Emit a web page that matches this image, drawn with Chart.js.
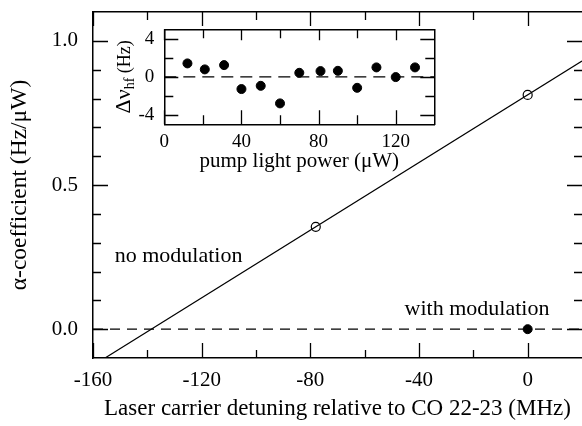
<!DOCTYPE html>
<html>
<head>
<meta charset="utf-8">
<script src="https://cdn.jsdelivr.net/npm/chart.js@4.4.0/dist/chart.umd.min.js"></script>
<style>
  html, body { margin: 0; padding: 0; background: #fff; }
  #wrap { position: relative; width: 582px; height: 426px; overflow: hidden; }
  #wrap canvas { position: absolute; left: 0; top: 0; }
</style>
</head>
<body>
<div id="wrap">
  <canvas id="mainChart" width="582" height="426"></canvas>
  <canvas id="insetChart" width="582" height="180"></canvas>
</div>
<script>
// ---- main panel: alpha-coefficient vs detuning ----
const fitX  = [-160, 20];          // straight fit line (end points)
const fitY  = [-0.126, 0.93];
const openX = [-78, 0];            // "no modulation" measurements
const openY = [0.355, 0.8125];
const modX  = [0];                 // "with modulation" measurement
const modY  = [0];
const zeroX = [-160, 20];
const zeroY = [0, 0];

const xMajor = [-160, -120, -80, -40, 0];
const xMinor = [-140, -100, -60, -20];
const yMajor = [0, 0.5, 1.0];
const yMinor = [0.1, 0.2, 0.3, 0.4, 0.6, 0.7, 0.8, 0.9];

const noteText = ["no modulation", "with modulation"];
const noteX    = [-152, -45.3];
const noteY    = [0.232, 0.048];

// ---- inset: hyperfine shift vs pump power ----
const powX  = [12, 21, 31, 40, 50, 60, 70, 81, 90, 100, 110, 120, 130];
const dHf   = [1.41, 0.78, 1.23, -1.29, -0.95, -2.8, 0.42, 0.6, 0.63, -1.16, 0.99, -0.03, 0.99];
const inZeroX = [0, 140];
const inZeroY = [0, 0];
const inXMajor = [0, 40, 80, 120];
const inXMinor = [20, 60, 100];
const inYMajor = [-4, 0, 4];
const inYMinor = [-2, 2];

const SERIF = '"Liberation Serif", "Times New Roman", serif';
Chart.defaults.color = "#000";
Chart.defaults.font.family = SERIF;

const pts = (xs, ys) => xs.map((x, i) => ({ x, y: ys[i] }));

// inward ticks on all four sides, drawn from the chart's own scales
function inTicks(cfg) {
  return {
    id: "inTicks",
    afterDatasetsDraw(chart) {
      const { ctx, chartArea: a, scales } = chart;
      const xs = scales.x, ys = scales.y;
      ctx.save();
      ctx.strokeStyle = "#000";
      ctx.lineWidth = cfg.w;
      ctx.beginPath();
      const vx = (vals, len, lenTop) => vals.forEach(v => {
        const p = Math.round(xs.getPixelForValue(v)) + 0.5;
        ctx.moveTo(p, a.bottom); ctx.lineTo(p, a.bottom - len);
        ctx.moveTo(p, a.top);    ctx.lineTo(p, a.top + lenTop);
      });
      const vy = (vals, len, lenRight) => vals.forEach(v => {
        const p = Math.round(ys.getPixelForValue(v)) + 0.5;
        ctx.moveTo(a.left, p);  ctx.lineTo(a.left + len, p);
        ctx.moveTo(a.right, p); ctx.lineTo(a.right - lenRight, p);
      });
      vx(cfg.xMajor, cfg.major, cfg.majorTop);
      vx(cfg.xMinor, cfg.minor, cfg.minor);
      vy(cfg.yMajor, cfg.major, cfg.major);
      vy(cfg.yMinor, cfg.minor, cfg.minor);
      ctx.stroke();
      ctx.restore();
    }
  };
}

const notes = {
  id: "notes",
  afterDatasetsDraw(chart) {
    const { ctx, scales: { x, y } } = chart;
    ctx.save();
    ctx.font = "22px " + SERIF;
    ctx.fillStyle = "#000";
    ctx.textBaseline = "alphabetic";
    noteText.forEach((t, i) => ctx.fillText(t, x.getPixelForValue(noteX[i]), y.getPixelForValue(noteY[i])));
    ctx.restore();
  }
};

// fixed box sizes, and no extra label overhang padding
const fixBox = (s, prop, val) => {
  s[prop] = val;
  s.paddingTop = s.paddingBottom = s.paddingLeft = s.paddingRight = 0;
};

function frameScales(xmin, xmax, ymin, ymax, fix) {
  const border = { display: true, color: "#000", width: 1.5 };
  const grid = { display: false, drawTicks: false };
  return {
    x: {
      type: "linear", position: "bottom", min: xmin, max: xmax,
      border, grid,
      afterBuildTicks: s => { s.ticks = fix.xTicks.map(value => ({ value })); },
      afterFit: s => fixBox(s, "height", fix.bottom),
      ticks: { font: { size: fix.tickSize }, padding: fix.xPad, maxRotation: 0, callback: v => String(v) },
      title: { display: true, text: fix.xTitle, font: { size: fix.xTitleSize }, padding: { top: 0, bottom: fix.xTitlePad } }
    },
    x2: {
      type: "linear", position: "top", min: xmin, max: xmax,
      border, grid, ticks: { display: false },
      afterFit: s => fixBox(s, "height", 0)
    },
    y: {
      type: "linear", position: "left", min: ymin, max: ymax,
      border, grid,
      afterBuildTicks: s => { s.ticks = fix.yTicks.map(value => ({ value })); },
      afterFit: s => fixBox(s, "width", fix.left),
      ticks: { font: { size: fix.tickSize }, padding: fix.yPad, callback: fix.yFmt },
      title: { display: !!fix.yTitle, text: fix.yTitle, font: { size: fix.yTitleSize }, padding: { top: fix.yTitlePad, bottom: 0 } }
    },
    y2: {
      type: "linear", position: "right", min: ymin, max: ymax,
      border: { ...border, display: fix.rightBorder }, grid, ticks: { display: false },
      afterFit: s => fixBox(s, "width", 0)
    }
  };
}

new Chart(document.getElementById("mainChart"), {
  type: "scatter",
  data: {
    datasets: [
      { data: pts(zeroX, zeroY), showLine: true, borderColor: "#000", borderWidth: 1.2, borderDash: [10, 7], pointRadius: 0 },
      { data: pts(fitX, fitY), showLine: true, borderColor: "#000", borderWidth: 1.2, pointRadius: 0 },
      { data: pts(openX, openY), pointRadius: 4.5, pointBackgroundColor: "#fff", pointBorderColor: "#000", pointBorderWidth: 1.2 },
      { data: pts(modX, modY), pointRadius: 4.5, pointBackgroundColor: "#000", pointBorderColor: "#000" }
    ]
  },
  options: {
    responsive: false, animation: false, devicePixelRatio: 1,
    layout: { autoPadding: false, padding: { left: 0, top: 12, right: 0, bottom: 0 } },
    plugins: { legend: { display: false }, tooltip: { enabled: false } },
    scales: frameScales(-160, 20, -0.1, 1.1, {
      bottom: 68, left: 93, tickSize: 21, xPad: 10, yPad: 15, rightBorder: false,
      xTicks: xMajor, yTicks: yMajor, yFmt: v => v.toFixed(1),
      xTitle: "Laser carrier detuning relative to CO 22-23 (MHz)", xTitleSize: 23, xTitlePad: 3,
      yTitle: "α-coefficient (Hz/μW)", yTitleSize: 23.5, yTitlePad: 6
    })
  },
  plugins: [inTicks({ w: 1.3, major: 15, majorTop: 14, minor: 8, xMajor, xMinor, yMajor, yMinor }), notes]
});

// inset y-axis title with a subscript
const insetYTitle = {
  id: "insetYTitle",
  afterDraw(chart) {
    const { ctx, chartArea: a } = chart;
    const parts = [["Δν", 22, 0], ["hf", 14, 4], [" (Hz)", 18, 0]];
    ctx.save();
    ctx.fillStyle = "#000";
    ctx.textBaseline = "alphabetic";
    ctx.translate(130, (a.top + a.bottom) / 2);
    ctx.rotate(-Math.PI / 2);
    let total = 0;
    parts.forEach(([t, s]) => { ctx.font = s + "px " + SERIF; total += ctx.measureText(t).width; });
    let x = -total / 2;
    parts.forEach(([t, s, d]) => {
      ctx.font = s + "px " + SERIF;
      ctx.fillText(t, x, d);
      x += ctx.measureText(t).width;
    });
    ctx.restore();
  }
};

new Chart(document.getElementById("insetChart"), {
  type: "scatter",
  data: {
    datasets: [
      { data: pts(inZeroX, inZeroY), showLine: true, borderColor: "#000", borderWidth: 1.2, borderDash: [12, 7], pointRadius: 0 },
      { data: pts(powX, dHf), pointRadius: 4.5, pointBackgroundColor: "#000", pointBorderColor: "#000" }
    ]
  },
  options: {
    responsive: false, animation: false, devicePixelRatio: 1,
    layout: { autoPadding: false, padding: { left: 0, top: 29.3, right: 147.7, bottom: 0 } },
    plugins: { legend: { display: false }, tooltip: { enabled: false } },
    scales: frameScales(0, 140, -5, 5, {
      bottom: 55.7, left: 164.3, tickSize: 19, xPad: 6, yPad: 10, rightBorder: true,
      xTicks: inXMajor, yTicks: inYMajor, yFmt: v => String(v),
      xTitle: "pump light power (μW)", xTitleSize: 21, xTitlePad: 6,
      yTitle: ""
    })
  },
  plugins: [inTicks({ w: 1.3, major: 14, majorTop: 11, minor: 9, xMajor: inXMajor, xMinor: inXMinor, yMajor: inYMajor, yMinor: inYMinor }), insetYTitle]
});
</script>
</body>
</html>
